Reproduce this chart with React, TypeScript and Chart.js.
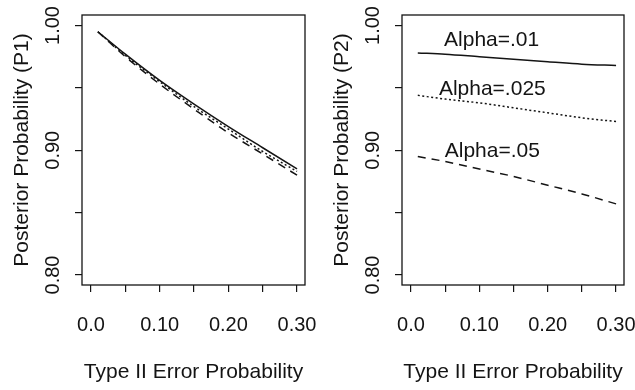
import React, { useEffect, useRef } from 'react';
import { Chart, registerables } from 'chart.js';

Chart.register(...registerables);

// ---- data ----
const typeIIError = [0.01, 0.05, 0.10, 0.15, 0.20, 0.25, 0.30];

const p1Alpha01 = [0.995, 0.977, 0.956, 0.937, 0.919, 0.902, 0.885];
const p1Alpha025 = [0.995, 0.976, 0.955, 0.935, 0.917, 0.899, 0.883];
const p1Alpha05 = [0.995, 0.975, 0.953, 0.933, 0.914, 0.897, 0.880];

const p2Alpha01 = [0.978, 0.977, 0.975, 0.973, 0.971, 0.969, 0.968];
const p2Alpha025 = [0.944, 0.941, 0.938, 0.934, 0.930, 0.926, 0.923];
const p2Alpha05 = [0.895, 0.891, 0.885, 0.879, 0.872, 0.865, 0.857];

const xTickValues = [0, 0.05, 0.10, 0.15, 0.20, 0.25, 0.30];
const xTickLabels = ['0.0', '', '0.10', '', '0.20', '', '0.30'];
const yTickValues = [0.80, 0.85, 0.90, 0.95, 1.00];
const yTickLabels = ['0.80', '', '0.90', '', '1.00'];

const alphaLabels = ['Alpha=.01', 'Alpha=.025', 'Alpha=.05'];
const alphaLabelX = [0.118, 0.119, 0.119];
const alphaLabelY = [0.9836, 0.9443, 0.8949];

const xTitle = 'Type II Error Probability';
const yTitleLeft = 'Posterior Probability (P1)';
const yTitleRight = 'Posterior Probability (P2)';

// ---- styling ----
const FONT = '"Liberation Sans", Arial, Helvetica, sans-serif';
const INK = '#141414';
const X_MIN = -0.0131;
const X_MAX = 0.3116;
const Y_MIN = 0.792;
const Y_MAX = 1.0084;

const dashStyles = [[], [2, 2.5], [8, 6]];

function makeFramePlugin(showAlpha: boolean) {
  return {
    id: 'frameAndLabels',
    afterDraw(chart: any) {
      const { ctx, chartArea: a, scales } = chart;
      const x = scales.x;
      const y = scales.y;
      ctx.save();
      ctx.strokeStyle = INK;
      ctx.lineWidth = 1.3;
      ctx.strokeRect(a.left, a.top, a.right - a.left, a.bottom - a.top);
      ctx.fillStyle = INK;
      ctx.font = `20px ${FONT}`;
      ctx.textAlign = 'center';
      ctx.textBaseline = 'middle';
      xTickValues.forEach((v, i) => {
        const lab = xTickLabels[i];
        if (!lab) return;
        ctx.fillText(lab, x.getPixelForValue(v), a.bottom + 40);
      });
      yTickValues.forEach((v, i) => {
        const lab = yTickLabels[i];
        if (!lab) return;
        ctx.save();
        ctx.translate(a.left - 28.5, y.getPixelForValue(v));
        ctx.rotate(-Math.PI / 2);
        ctx.fillText(lab, 0, 0);
        ctx.restore();
      });
      if (showAlpha) {
        ctx.font = `21px ${FONT}`;
        ctx.textBaseline = 'alphabetic';
        alphaLabels.forEach((lab, i) => {
          ctx.fillText(lab, x.getPixelForValue(alphaLabelX[i]), y.getPixelForValue(alphaLabelY[i]));
        });
      }
      ctx.restore();
    },
  };
}

function buildConfig(series: number[][], yTitle: string, padRight: number, showAlpha: boolean) {
  return {
    type: 'line',
    data: {
      datasets: series.map((vals, k) => ({
        data: typeIIError.map((xv, i) => ({ x: xv, y: vals[i] })),
        borderColor: INK,
        borderWidth: 1.5,
        borderDash: dashStyles[k],
        pointRadius: 0,
        fill: false,
        cubicInterpolationMode: 'monotone',
      })),
    },
    options: {
      animation: false,
      responsive: false,
      maintainAspectRatio: false,
      layout: { padding: { left: 0, top: 15, right: padRight, bottom: 0 } },
      plugins: { legend: { display: false }, tooltip: { enabled: false } },
      scales: {
        x: {
          type: 'linear',
          min: X_MIN,
          max: X_MAX,
          afterBuildTicks: (s: any) => {
            s.ticks = xTickValues.map((v) => ({ value: v }));
          },
          afterFit: (s: any) => {
            s.height = 105;
          },
          ticks: { display: false },
          grid: { display: true, drawOnChartArea: false, drawTicks: true, tickLength: 7, color: INK, lineWidth: 1.2 },
          border: { display: false },
          title: {
            display: true,
            text: xTitle,
            color: INK,
            font: { family: FONT, size: 21 },
            padding: { top: 0, bottom: 5 },
          },
        },
        y: {
          type: 'linear',
          min: Y_MIN,
          max: Y_MAX,
          afterBuildTicks: (s: any) => {
            s.ticks = yTickValues.map((v) => ({ value: v }));
          },
          afterFit: (s: any) => {
            s.width = 82;
          },
          ticks: { display: false },
          grid: { display: true, drawOnChartArea: false, drawTicks: true, tickLength: 7, color: INK, lineWidth: 1.2 },
          border: { display: false },
          title: {
            display: true,
            text: yTitle,
            color: INK,
            font: { family: FONT, size: 21 },
            padding: { top: 10, bottom: 0 },
          },
        },
      },
    },
    plugins: [makeFramePlugin(showAlpha)],
  };
}

function Panel(props: { width: number; series: number[][]; yTitle: string; padRight: number; showAlpha: boolean }) {
  const ref = useRef<HTMLCanvasElement | null>(null);
  useEffect(() => {
    if (!ref.current) return;
    const chart = new Chart(ref.current, buildConfig(props.series, props.yTitle, props.padRight, props.showAlpha) as any);
    return () => chart.destroy();
  }, []);
  return (
    <canvas ref={ref} width={props.width} height={390} style={{ display: 'block', width: props.width, height: 390 }} />
  );
}

export default function App() {
  return (
    <div
      style={{
        position: 'fixed',
        left: 0,
        top: 0,
        width: 635,
        height: 390,
        display: 'flex',
        background: '#ffffff',
        overflow: 'hidden',
      }}
    >
      <Panel width={320} series={[p1Alpha01, p1Alpha025, p1Alpha05]} yTitle={yTitleLeft} padRight={15} showAlpha={false} />
      <Panel width={315} series={[p2Alpha01, p2Alpha025, p2Alpha05]} yTitle={yTitleRight} padRight={11} showAlpha={true} />
    </div>
  );
}
